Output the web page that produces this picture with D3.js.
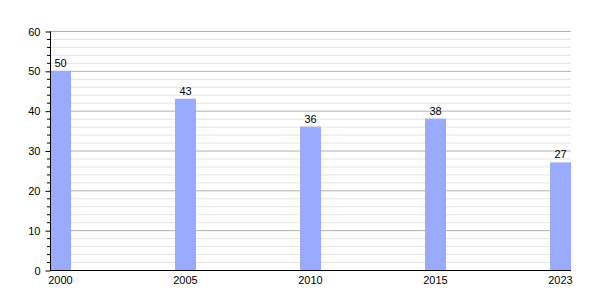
<!DOCTYPE html>
<html>
<head>
<meta charset="utf-8">
<script src="https://cdn.jsdelivr.net/npm/d3@7"></script>
<style>
  body { margin: 0; background: #fff; }
  text { font-family: "Liberation Sans", Arial, sans-serif; font-size: 11px; fill: #000; }
</style>
</head>
<body>
<div id="chart"></div>
<script>
// data
const years = ["2000", "2005", "2010", "2015", "2023"];
const values = [50, 43, 36, 38, 27];
const yTicks = [0, 10, 20, 30, 40, 50, 60];

const width = 600,
  height = 300,
  margin = { top: 31, bottom: 30, left: 50, right: 29 };

const barWidth = 21;

const svg = d3.select("#chart")
  .append("svg")
  .attr("width", width)
  .attr("height", height);

// scales
const xScale = d3.scalePoint()
  .domain(years)
  .range([margin.left, margin.left + 500]);

const yScale = d3.scaleLinear()
  .domain([0, 60])
  .range([height - margin.bottom, margin.top]);

const minor = d3.range(0, 61, 2).filter(d => d % 10 !== 0);

// minor gridlines
svg.selectAll("line.minor")
  .data(minor)
  .join("line")
  .attr("class", "minor")
  .attr("x1", margin.left)
  .attr("x2", width - margin.right)
  .attr("y1", d => yScale(d) + 0.5)
  .attr("y2", d => yScale(d) + 0.5)
  .attr("stroke", "#e3e3e3");

// major gridlines
svg.selectAll("line.major")
  .data(yTicks.filter(d => d > 0))
  .join("line")
  .attr("class", "major")
  .attr("x1", margin.left)
  .attr("x2", width - margin.right)
  .attr("y1", d => yScale(d) + 0.5)
  .attr("y2", d => yScale(d) + 0.5)
  .attr("stroke", "#b0b0b0");

// bars
svg.selectAll("rect.bar")
  .data(years.map((y, i) => ({ year: y, value: values[i] })))
  .join("rect")
  .attr("class", "bar")
  .attr("x", d => xScale(d.year))
  .attr("y", d => yScale(d.value))
  .attr("width", barWidth)
  .attr("height", d => yScale(0) - yScale(d.value))
  .attr("fill", "#99aaff");

// value labels
svg.selectAll("text.value")
  .data(years.map((y, i) => ({ year: y, value: values[i] })))
  .join("text")
  .attr("class", "value")
  .attr("x", d => xScale(d.year) + barWidth / 2)
  .attr("y", d => yScale(d.value) - 4)
  .attr("text-anchor", "middle")
  .text(d => d.value);

// y axis minor ticks
svg.selectAll("line.mtick")
  .data(minor)
  .join("line")
  .attr("class", "mtick")
  .attr("x1", margin.left - 3)
  .attr("x2", margin.left)
  .attr("y1", d => yScale(d) + 0.5)
  .attr("y2", d => yScale(d) + 0.5)
  .attr("stroke", "#000");

// y axis
const yAxis = d3.axisLeft(yScale)
  .tickValues(yTicks)
  .tickSize(5)
  .tickPadding(5);

const yAxisGroup = svg.append("g")
  .attr("transform", `translate(${margin.left + 0.5}, 0.5)`)
  .call(yAxis);
yAxisGroup.select(".domain").attr("d", `M0,${yScale(60)}V${yScale(0)}`);
yAxisGroup.selectAll("text").style("font-size", "11px").attr("fill", "#000");

// x axis baseline
svg.append("line")
  .attr("x1", margin.left)
  .attr("x2", width - margin.right)
  .attr("y1", yScale(0) + 0.5)
  .attr("y2", yScale(0) + 0.5)
  .attr("stroke", "#000");

// year labels
svg.selectAll("text.year")
  .data(years)
  .join("text")
  .attr("class", "year")
  .attr("x", d => xScale(d) + barWidth / 2)
  .attr("y", yScale(0) + 14)
  .attr("text-anchor", "middle")
  .text(d => d);
</script>
</body>
</html>
